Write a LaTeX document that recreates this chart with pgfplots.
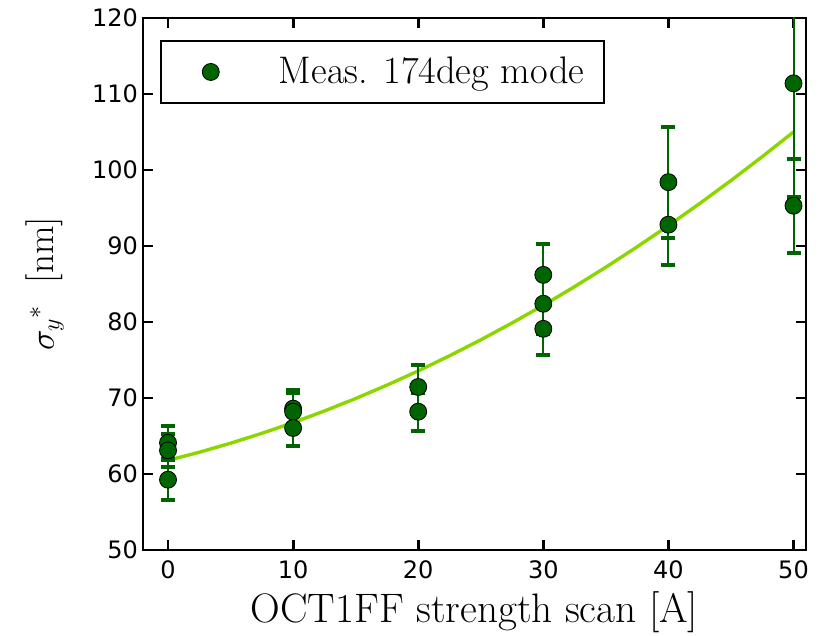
\documentclass[border=0pt]{standalone}
\usepackage{fontspec}
\usepackage{pgfplots}
\pgfplotsset{compat=1.18}
\newfontfamily\dejavu{DejaVu Sans}
\definecolor{dkgreen}{RGB}{0,100,0}
\definecolor{fitgreen}{RGB}{140,214,0}
\begin{document}
\begin{tikzpicture}
\begin{axis}[
  scale only axis,
  width=331.5pt, height=266pt,
  xmin=-2, xmax=51, ymin=50, ymax=120,
  xtick={0,10,20,30,40,50},
  ytick={50,60,70,80,90,100,110,120},
  tick align=inside,
  major tick length=5pt,
  every tick/.style={black, line width=1.4pt},
  minor tick num=0,
  axis line style={line width=1pt},
  /pgf/number format/assume math mode=true,
  ticklabel style={font=\dejavu\fontsize{12}{14}\selectfont},
  xticklabel style={yshift=-2pt},
  yticklabel style={xshift=1pt},
  xlabel={OCT1FF strength scan [A]},
  ylabel={$\sigma_{y}{}^{*}$\hspace{0.6em}[nm]},
  xlabel style={font=\fontsize{20.6}{24}\selectfont, at={(axis description cs:0.5,0)}, anchor=center, yshift=-31pt},
  ylabel style={font=\fontsize{18.5}{22}\selectfont, at={(axis description cs:0,0.5)}, anchor=center, yshift=49pt},
  legend style={at={(rel axis cs:0.0256,0.958)}, anchor=north west,
    draw=black, line width=0.8pt, inner xsep=0pt, inner ysep=6pt,
    font=\fontsize{19.2}{22}\selectfont},
  legend cell align=left,
]
\addplot[fitgreen, line width=1.7pt, forget plot] coordinates {
(0,61.8) (2.5,62.86) (5,64.05) (7.5,65.35) (10,66.76) (12.5,68.29) (15,69.93)
(17.5,71.69) (20,73.56) (22.5,75.55) (25,77.65) (27.5,79.87) (30,82.2)
(32.5,84.65) (35,87.21) (37.5,89.89) (40,92.68) (42.5,95.59) (45,98.61)
(47.5,101.75) (50,105.0)};
\addplot[only marks, mark=*, mark size=4.25pt,
  mark options={fill=dkgreen, draw=black, line width=0.4pt},
  legend image code/.code={
    \path[draw=none] (0pt,0pt) -- (57pt,0pt);
    \draw[black, line width=0.4pt, fill=dkgreen] (25pt,0pt) circle (4.25pt);},
  error bars/.cd, y dir=both, y explicit,
  error bar style={line width=1pt, color=dkgreen},
  error mark options={mark size=3.5pt, line width=2pt, color=dkgreen, rotate=90},
  ] coordinates {
(0,64.1) +- (0,2.2)
(0,63.1) +- (0,2.2)
(0,59.25) +- (0,2.7)
(10,68.6) +- (0,2.4)
(10,68.2) +- (0,2.5)
(10,66.05) +- (0,2.35)
(20,71.45) +- (0,2.95)
(20,68.2) +- (0,2.5)
(30,86.2) +- (0,4.1)
(30,82.4) +- (0,4.0)
(30,79.1) +- (0,3.5)
(40,98.4) +- (0,7.3)
(40,92.8) +- (0,5.3)
(50,111.4) +- (0,14.9)
(50,95.3) +- (0,6.2)
};
\addlegendentry{Meas. 174deg mode\kern8pt}
\end{axis}
\path (current axis.south west) ++(-71.5pt,-43pt) coordinate (bl);
\path (current axis.north east) ++(6pt,9pt) coordinate (tr);
\pgfresetboundingbox
\useasboundingbox (bl) rectangle (tr);
\end{tikzpicture}
\end{document}
